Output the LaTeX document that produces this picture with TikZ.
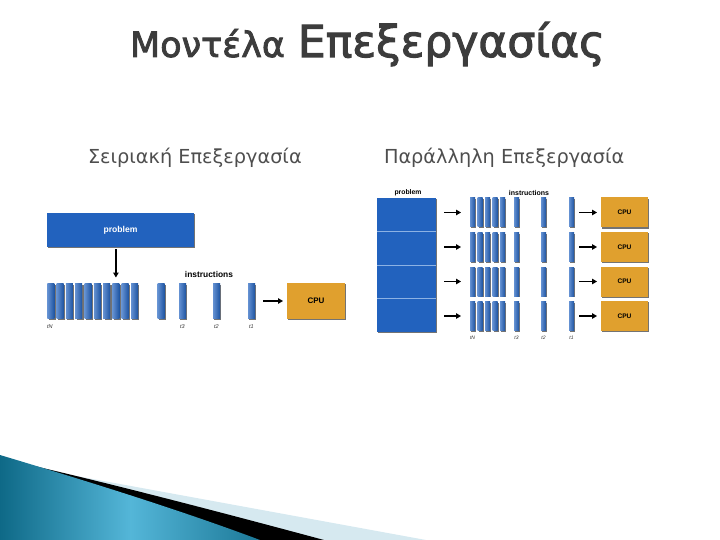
\documentclass[tikz,border=0pt]{standalone}
\usepackage{fontspec}
\setmainfont{DejaVu Sans}
\newfontfamily\titlefont{DejaVu Sans}[FakeBold=2.4]
\newfontfamily\diagfont{Liberation Sans}
\usepackage{xcolor}
\usetikzlibrary{arrows.meta,positioning,shadows,calc}

\definecolor{probblue}{RGB}{34,98,190}
\definecolor{cpuorange}{RGB}{224,160,46}
\definecolor{titlegray}{RGB}{60,60,60}
\definecolor{subgray}{RGB}{78,78,78}
\definecolor{sepblue}{RGB}{140,178,228}
\definecolor{swdark}{RGB}{14,105,135}
\definecolor{swlight}{RGB}{84,182,216}
\definecolor{swpale}{RGB}{214,233,240}

\begin{document}
\begin{tikzpicture}[
  x=1pt, y=-1pt,
  every node/.style={inner sep=0pt, outer sep=0pt},
  boxshadow/.style={drop shadow={shadow xshift=1.4pt, shadow yshift=-1.4pt, fill=black, opacity=0.55}},
  probbox/.style={fill=probblue, boxshadow, text=white, font=\diagfont\bfseries\fontsize{8.6}{9}\selectfont},
  bar/.style={left color=probblue!70!white, right color=probblue!85!black, boxshadow, minimum width=7pt, minimum height=35pt},
  pbar/.style={bar, minimum width=5pt, minimum height=29pt},
  cpubox/.style={fill=cpuorange, boxshadow, font=\diagfont\bfseries\fontsize{8}{9}\selectfont},
  pcpubox/.style={cpubox, minimum width=47pt, minimum height=30pt, font=\diagfont\bfseries\fontsize{6.6}{7}\selectfont},
  label/.style={font=\diagfont\bfseries\fontsize{8.4}{9}\selectfont},
  tlabel/.style={font=\diagfont\itshape\fontsize{5.5}{6}\selectfont, text=black!80},
  arrow/.style={line width=1.4pt, -{Triangle[length=5pt, width=5.5pt]}},
  sepline/.style={sepblue, line width=1pt},
]
\useasboundingbox (0,0) rectangle (720,540);

% swoosh at the bottom
\fill[swpale] (38,469) -- (426,540) -- (0,540) -- cycle;
\fill[black] (30,465) .. controls (120,486) and (220,512) .. (324,540) -- (0,540) -- cycle;
\shade[left color=swdark, right color=swdark!80!swlight, middle color=swlight]
  (0,455) .. controls (90,482) and (180,510) .. (260,540) -- (0,540) -- cycle;

% titles
\node[anchor=base west, text=titlegray, font=\titlefont] (title) at (130,57)
  {{\fontsize{35}{40}\selectfont Μοντέλα}\hspace{13pt}{\fontsize{44}{50}\selectfont Επεξεργασίας}};
\node[anchor=base west, text=subgray, font=\fontsize{19.3}{22}\selectfont] (serial) at (88,164) {Σειριακή Επεξεργασία};
\node[anchor=base west, text=subgray, font=\fontsize{19.3}{22}\selectfont] (parallel) at (384,164) {Παράλληλη Επεξεργασία};

% serial
\node[probbox, minimum width=147pt, minimum height=34pt] (problem) at (120.5,230) {problem};
\foreach \i in {1,...,10}
  \node[bar] (sb\i) at ({50.8+9.3*(\i-1)},301) {};
\foreach \n/\x in {11/161,12/182.5,13/216.5,14/251.5}
  \node[bar] (sb\n) at (\x,301) {};
\node[cpubox, minimum width=58pt, minimum height=36pt] (cpu) at (316,301) {CPU};
\node[label] (instr) at (209,274) {instructions};
\node[tlabel, anchor=west] (stN) at (47,327) {tN};
\node[tlabel] (st3) at (182.5,327) {t3};
\node[tlabel] (st2) at (216.5,327) {t2};
\node[tlabel] (st1) at (251.5,327) {t1};
\draw[arrow, shorten <=2pt, shorten >=6pt] (problem.south -| sb8.center) -- (sb8.north);
\draw[arrow, shorten <=8pt, shorten >=4pt] (sb14) -- (cpu);

% parallel
\node[probbox, minimum width=59pt, minimum height=134pt] (pprob) at (406.5,265) {};
\foreach \k in {1,2,3}
  \draw[sepline] ($(pprob.north west)!\k/4!(pprob.south west)$) -- ($(pprob.north east)!\k/4!(pprob.south east)$);
\node[label, font=\diagfont\bfseries\fontsize{6.8}{7}\selectfont] (pproblabel) at (408,193) {problem};
\node[label, font=\diagfont\bfseries\fontsize{7}{8}\selectfont] (pinstr) at (529,193) {instructions};
\foreach \r in {1,...,4} {
  \pgfmathsetmacro\yr{212.5+34.5*(\r-1)}
  \foreach \i/\x in {1/472.5,2/480,3/487.5,4/495,5/502.5,6/516.5,7/543.5,8/571.5}
    \node[pbar] (pb\r-\i) at (\x,\yr) {};
  \node[pcpubox] (pcpu\r) at (624.5,\yr) {CPU};
  \draw[arrow, shorten <=8pt, shorten >=9pt] (pprob.east |- pb\r-1.west) -- (pb\r-1.west);
  \draw[arrow, shorten <=5pt, shorten >=4pt] (pb\r-8.east) -- (pcpu\r.west);
}
\node[tlabel, font=\diagfont\itshape\fontsize{5}{6}\selectfont, anchor=west] (ptN) at (470,338) {tN};
\node[tlabel, font=\diagfont\itshape\fontsize{5}{6}\selectfont] (pt3) at (516.5,338) {t3};
\node[tlabel, font=\diagfont\itshape\fontsize{5}{6}\selectfont] (pt2) at (543.5,338) {t2};
\node[tlabel, font=\diagfont\itshape\fontsize{5}{6}\selectfont] (pt1) at (571.5,338) {t1};
\end{tikzpicture}
\end{document}
